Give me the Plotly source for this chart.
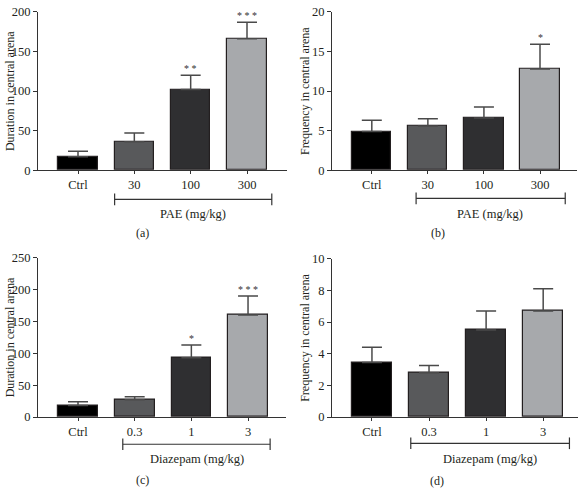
import plotly.graph_objects as go

# ---- data ----
pae_labels = ["Ctrl", "30", "100", "300"]
dzp_labels = ["Ctrl", "0.3", "1", "3"]

a_duration = [17, 36, 102, 166]
a_duration_err = [7, 11, 18, 21]
a_sig = ["", "", "* *", "* * *"]

b_frequency = [4.9, 5.6, 6.6, 12.8]
b_frequency_err = [1.4, 0.9, 1.4, 3.1]
b_sig = ["", "", "", "*"]

c_duration = [18, 27, 93, 160]
c_duration_err = [6, 5, 20, 30]
c_sig = ["", "", "*", "* * *"]

d_frequency = [3.45, 2.8, 5.5, 6.7]
d_frequency_err = [0.95, 0.45, 1.2, 1.4]
d_sig = ["", "", "", ""]

bar_colors = ["#000000", "#58595b", "#2f2f31", "#a7a9ac"]

W, H = 582, 494
FONT = "Liberation Serif"

def px_x(p):
    return p / W

def px_y(p):
    return (H - p) / H

panels = [
    dict(name="a", labels=pae_labels, vals=a_duration, errs=a_duration_err, sig=a_sig,
         xdom=[px_x(38), px_x(287)], ydom=[px_y(168), px_y(5)], xr=[-0.71, 3.71],
         yr=[0, 200], dtick=50, ytitle="Duration in central arena", ytx=10,
         br=[0.65, 3.44], bry=198, grp="PAE (mg/kg)", grpx=193, grpy=213,
         let="(a)", letx=142, lety=233),
    dict(name="b", labels=pae_labels, vals=b_frequency, errs=b_frequency_err, sig=b_sig,
         xdom=[px_x(332), px_x(577)], ydom=[px_y(168), px_y(5)], xr=[-0.71, 3.66],
         yr=[0, 20], dtick=5, ytitle="Frequency in central arena", ytx=305,
         br=[0.79, 3.45], bry=197, grp="PAE (mg/kg)", grpx=490, grpy=213,
         let="(b)", letx=438, lety=233),
    dict(name="c", labels=dzp_labels, vals=c_duration, errs=c_duration_err, sig=c_sig,
         xdom=[px_x(38), px_x(286)], ydom=[px_y(422), px_y(258)], xr=[-0.706, 3.67],
         yr=[0, 250], dtick=50, ytitle="Duration in central arena", ytx=10,
         br=[0.79, 3.39], bry=450, grp="Diazepam (mg/kg)", grpx=197, grpy=465,
         let="(c)", letx=142, lety=487),
    dict(name="d", labels=dzp_labels, vals=d_frequency, errs=d_frequency_err, sig=d_sig,
         xdom=[px_x(332), px_x(578)], ydom=[px_y(422), px_y(259)], xr=[-0.70, 3.61],
         yr=[0, 10], dtick=2, ytitle="Frequency in central arena", ytx=305,
         br=[0.68, 3.46], bry=449, grp="Diazepam (mg/kg)", grpx=490, grpy=465,
         let="(d)", letx=437, lety=488),
]

fig = go.Figure()
shapes = []
annotations = []
layout = {}

for i, p in enumerate(panels):
    idx = "" if i == 0 else str(i + 1)
    xa, ya = "x" + idx, "y" + idx
    xs = list(range(len(p["labels"])))
    fig.add_trace(go.Bar(
        x=xs, y=p["vals"], xaxis=xa, yaxis=ya, width=0.7,
        marker=dict(color=bar_colors, line=dict(color="#231f20", width=1.2)),
        error_y=dict(type="data", symmetric=False, array=p["errs"],
                     arrayminus=[0] * len(p["vals"]),
                     color="#4a4a4a", thickness=1.5, width=10),
        showlegend=False, hoverinfo="skip",
    ))
    layout["xaxis" + idx] = dict(
        domain=p["xdom"], anchor=ya, range=p["xr"], tickvals=xs, ticktext=p["labels"],
        showline=True, linecolor="#333333", linewidth=1, ticks="outside", ticklen=3,
        tickcolor="#333333", showgrid=False, zeroline=False,
        tickfont=dict(family=FONT, size=12.5, color="#231f20"), fixedrange=True,
    )
    layout["yaxis" + idx] = dict(
        domain=p["ydom"], anchor=xa, range=p["yr"], dtick=p["dtick"],
        showline=True, linecolor="#333333", linewidth=1, ticks="outside", ticklen=4,
        tickcolor="#333333", showgrid=False, zeroline=False,
        tickfont=dict(family=FONT, size=12.5, color="#231f20"), fixedrange=True,
    )
    # significance stars
    for x, v, e, s in zip(xs, p["vals"], p["errs"], p["sig"]):
        if s:
            annotations.append(dict(x=x, y=v + e, xref=xa, yref=ya, text=s,
                                    showarrow=False, yanchor="bottom", yshift=-1,
                                    font=dict(family=FONT, size=10, color="#333333")))
    # group bracket
    by = px_y(p["bry"])
    t = 6 / H
    shapes.append(dict(type="line", xref=xa, yref="paper", x0=p["br"][0], x1=p["br"][1],
                       y0=by, y1=by, line=dict(color="#333333", width=1.2)))
    for bx in p["br"]:
        shapes.append(dict(type="line", xref=xa, yref="paper", x0=bx, x1=bx,
                           y0=by - t, y1=by + t, line=dict(color="#333333", width=1.2)))
    annotations.append(dict(x=px_x(p["grpx"]), y=px_y(p["grpy"]), xref="paper", yref="paper",
                            text=p["grp"], showarrow=False, xanchor="center", yanchor="middle",
                            font=dict(family=FONT, size=12.5, color="#231f20")))
    annotations.append(dict(x=px_x(p["letx"]), y=px_y(p["lety"]), xref="paper", yref="paper",
                            text=p["let"], showarrow=False, xanchor="center", yanchor="middle",
                            font=dict(family=FONT, size=12, color="#231f20")))
    # y-axis title
    ymid = (p["ydom"][0] + p["ydom"][1]) / 2
    annotations.append(dict(x=px_x(p["ytx"]), y=ymid, xref="paper", yref="paper",
                            text=p["ytitle"], showarrow=False, textangle=-90,
                            xanchor="center", yanchor="middle",
                            font=dict(family=FONT, size=12, color="#231f20")))

fig.update_layout(
    width=W, height=H, margin=dict(l=0, r=0, t=0, b=0),
    paper_bgcolor="white", plot_bgcolor="white",
    shapes=shapes, annotations=annotations, bargap=0, **layout,
)

fig.write_html(
    "out.html",
    config={"displayModeBar": False},
    post_script="document.body.style.margin='0';document.body.style.overflow='hidden';",
)
